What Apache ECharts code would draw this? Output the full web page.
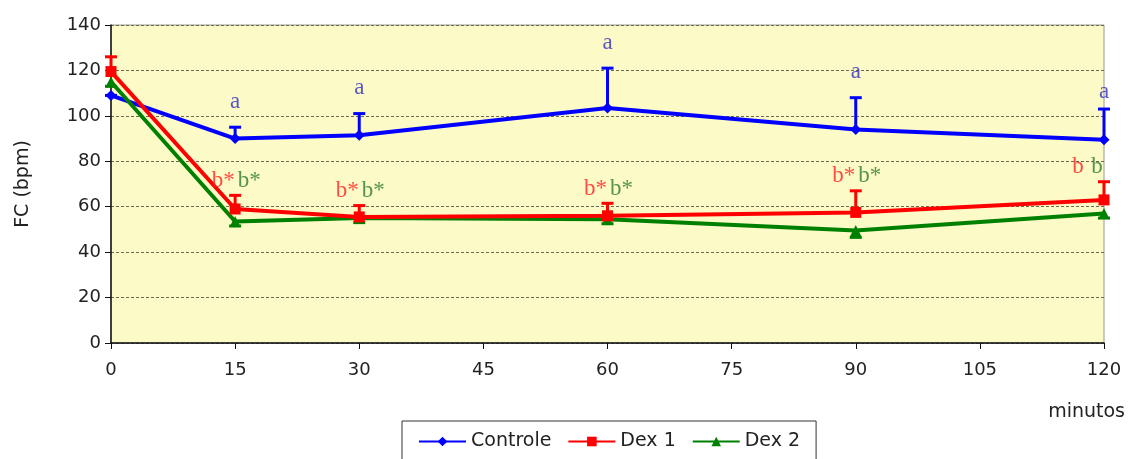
<!DOCTYPE html>
<html><head><meta charset="utf-8">
<script src="https://cdn.jsdelivr.net/npm/echarts@6/dist/echarts.min.js"></script>
<style>html,body{margin:0;padding:0;background:#fff}#c{width:1128px;height:459px}</style>
</head><body><div id="c"></div>
<script>
const minutes = [0, 15, 30, 60, 90, 120];
const controle = [109, 90, 91.5, 103.5, 94, 89.5];
const controleErr = [0, 5, 9.5, 17.5, 14, 13.5];   // upward SD
const dex1 = [119.5, 59, 55.5, 56, 57.5, 63];
const dex1Err = [6.5, 6, 5, 5.5, 9.5, 8];           // upward SD
const dex2 = [115, 53.5, 55, 54.5, 49.5, 57];
const dex2Err = [2, 2, 2, 2, 3, 2];                 // downward SD
const labA = ['', 'a', 'a', 'a', 'a', 'a'];
const labB1 = ['', 'b*', 'b*', 'b*', 'b*', 'b'];
const labB2 = ['', 'b*', 'b*', 'b*', 'b*', 'b'];
const yTicks = [0, 20, 40, 60, 80, 100, 120, 140];

const chart = echarts.init(document.getElementById('c'));
const sans = 'DejaVu Sans, Arial, sans-serif';
const serif = 'Liberation Serif, Times New Roman, serif';

function errSeries(vals, errs, dir, color) {
  return {
    type: 'custom', z: 3, silent: true,
    data: minutes.map((m, i) => [m, vals[i], vals[i] + dir * errs[i]]),
    renderItem: function (params, api) {
      const p0 = api.coord([api.value(0), api.value(1)]);
      const p1 = api.coord([api.value(0), api.value(2)]);
      const hw = 6;
      return { type: 'group', children: [
        { type: 'line', shape: { x1: p0[0], y1: p0[1], x2: p1[0], y2: p1[1] }, style: { stroke: color, lineWidth: 3 } },
        { type: 'line', shape: { x1: p1[0] - hw, y1: p1[1], x2: p1[0] + hw, y2: p1[1] }, style: { stroke: color, lineWidth: 3 } }
      ]};
    }
  };
}
function labelSeries(vals, errs, labels, color, offsetFn) {
  return {
    type: 'scatter', symbolSize: 0, silent: true, z: 5,
    data: minutes.map((m, i) => ({ value: [m, vals[i] + errs[i]],
      label: { show: labels[i] !== '', formatter: labels[i], offset: offsetFn(i) } })),
    label: { position: 'top', color: color, fontFamily: serif, fontSize: 23, distance: 0 }
  };
}

chart.setOption({
  animation: false,
  grid: { left: 111, right: 24, top: 25, bottom: 116, show: true, backgroundColor: '#fcfac6', borderColor: '#9a9a8a', borderWidth: 1 },
  xAxis: {
    type: 'value', min: 0, max: 120, interval: 15,
    name: 'minutos', nameLocation: 'end', nameGap: 0,
    nameTextStyle: { fontFamily: sans, fontSize: 19, color: '#222', align: 'right', verticalAlign: 'top', padding: [60, -21, 0, 0] },
    axisLine: { lineStyle: { color: '#111', width: 1.5 } },
    axisTick: { show: true, length: 6, lineStyle: { color: '#111' } },
    axisLabel: { fontFamily: sans, fontSize: 18, color: '#222', margin: 18 },
    splitLine: { show: false }
  },
  yAxis: {
    type: 'value', min: 0, max: 140, interval: 20,
    name: 'FC (bpm)', nameLocation: 'middle', nameGap: 78, nameRotate: 90,
    nameTextStyle: { fontFamily: sans, fontSize: 19, color: '#222' },
    axisLine: { show: true, lineStyle: { color: '#111', width: 1.5 } },
    axisTick: { show: true, length: 6, lineStyle: { color: '#111' } },
    axisLabel: { fontFamily: sans, fontSize: 18, color: '#222', margin: 10,
      formatter: v => yTicks.includes(v) ? String(v) : '' },
    splitLine: { show: true, lineStyle: { color: '#6b6b50', type: [3, 2], width: 1 } }
  },
  legend: {
    bottom: -14, left: 402, itemGap: 16, itemWidth: 47, itemHeight: 12,
    padding: [11, 16, 22, 16], borderColor: '#333', borderWidth: 1, backgroundColor: '#fff',
    textStyle: { fontFamily: sans, fontSize: 19, color: '#222' },
    data: ['Controle', 'Dex 1', 'Dex 2']
  },
  series: [
    errSeries(controle, controleErr, 1, '#0000ff'),
    errSeries(dex1, dex1Err, 1, '#ff0000'),
    errSeries(dex2, dex2Err, -1, '#008000'),
    { name: 'Controle', type: 'line', data: minutes.map((m, i) => [m, controle[i]]), z: 4,
      lineStyle: { color: '#0000ff', width: 4 }, itemStyle: { color: '#0000ff' }, symbol: 'diamond', symbolSize: 11 },
    { name: 'Dex 2', type: 'line', data: minutes.map((m, i) => [m, dex2[i]]), z: 4,
      lineStyle: { color: '#008000', width: 4 }, itemStyle: { color: '#008000' }, symbol: 'triangle', symbolSize: 11 },
    { name: 'Dex 1', type: 'line', data: minutes.map((m, i) => [m, dex1[i]]), z: 4,
      lineStyle: { color: '#ff0000', width: 4 }, itemStyle: { color: '#ff0000' }, symbol: 'rect', symbolSize: 11 },
    labelSeries(controle, controleErr, labA, '#3030c0', i => [0, i === 5 ? -6 : -14]),
    labelSeries(dex1, dex1Err, labB1, '#ff2020', i => [i === 5 ? -26 : -12, -3]),
    labelSeries(dex1, dex1Err, labB2, '#2a7a2a', i => [i === 5 ? -7 : 14, -3])
  ]
});
</script></body></html>
